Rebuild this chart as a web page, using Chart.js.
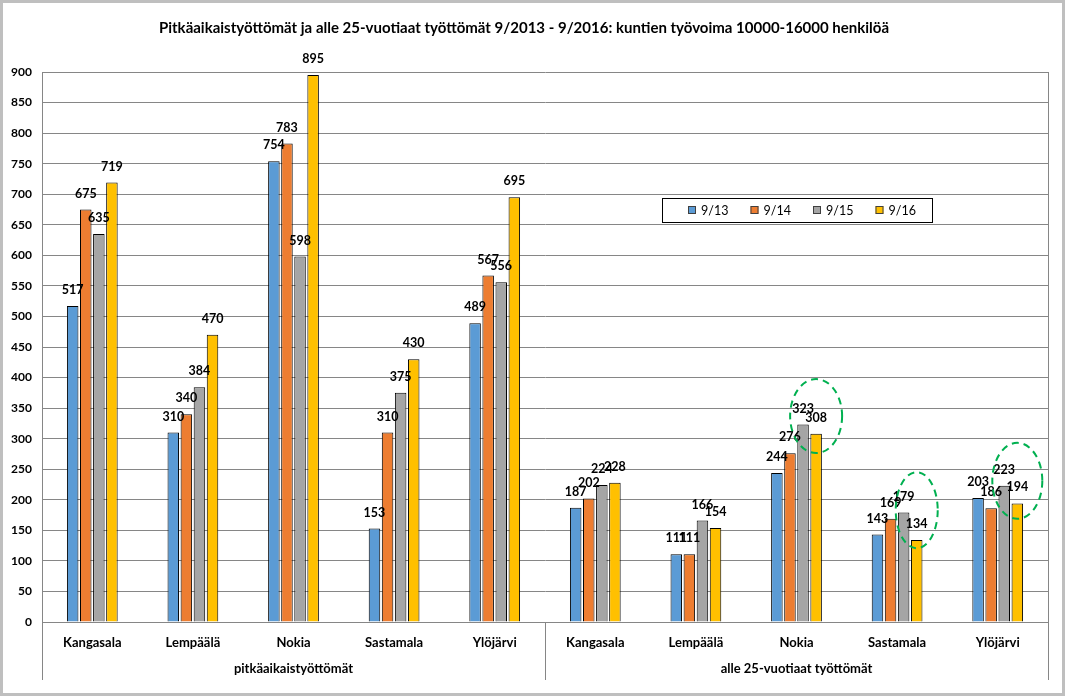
<!DOCTYPE html>
<html>
<head>
<meta charset="utf-8">
<script src="https://cdn.jsdelivr.net/npm/chart.js@4.4.0/dist/chart.umd.min.js"></script>
<style>
  html, body { margin: 0; padding: 0; background: #fff; }
  canvas { display: block; }
</style>
</head>
<body>
<canvas id="chart" width="1065" height="696"></canvas>
<script>
const cities = ['Kangasala', 'Lempäälä', 'Nokia', 'Sastamala', 'Ylöjärvi'];
const groups = ['pitkäaikaistyöttömät', 'alle 25-vuotiaat työttömät'];
const periods = ['9/13', '9/14', '9/15', '9/16'];

// first five values: pitkäaikaistyöttömät, last five: alle 25-vuotiaat
const v913 = [517, 310, 754, 153, 489, 187, 111, 244, 143, 203];
const v914 = [675, 340, 783, 310, 567, 202, 111, 276, 169, 186];
const v915 = [635, 384, 598, 375, 556, 224, 166, 323, 179, 223];
const v916 = [719, 470, 895, 430, 695, 228, 154, 308, 134, 194];

const yMin = 0;
const yMax = 900;
const yStep = 50;

// green dashed rings drawn over the chart: category index and value at ring centre
const rings = [
    { cat: 7, value: 337, rx: 26, ry: 37 },
    { cat: 8, value: 183, rx: 21, ry: 38 },
    { cat: 9, value: 231, rx: 25, ry: 38 }
];

const colors = ['#5B9BD5', '#ED7D31', '#A5A5A5', '#FFC000'];
const gridColor = '#868686';
const FONT = 'Lato, "Open Sans", sans-serif';

const labels = groups.flatMap(() => cities);
const series = [v913, v914, v915, v916];

const frame = {
    id: 'frame',
    beforeDraw(chart) {
        const { ctx, width, height } = chart;
        ctx.save();
        ctx.fillStyle = '#fff';
        ctx.fillRect(0, 0, width, height);
        ctx.restore();
    },
    afterDraw(chart) {
        const { ctx, width, height, chartArea } = chart;
        const x = chart.scales.x;
        ctx.save();
        // axis lines reaching down through the category labels
        ctx.strokeStyle = gridColor;
        ctx.lineWidth = 1;
        const bottom = chartArea.bottom + 58;
        const sep = (x.getPixelForValue(4) + x.getPixelForValue(5)) / 2;
        ctx.beginPath();
        ctx.moveTo(Math.round(chartArea.left) + 0.5, chartArea.top);
        ctx.lineTo(Math.round(chartArea.left) + 0.5, bottom);
        ctx.moveTo(Math.round(chartArea.right) + 0.5, chartArea.top);
        ctx.lineTo(Math.round(chartArea.right) + 0.5, bottom);
        ctx.moveTo(Math.round(sep) + 0.5, chartArea.bottom);
        ctx.lineTo(Math.round(sep) + 0.5, bottom);
        ctx.stroke();

        // group labels
        ctx.fillStyle = '#000';
        ctx.font = 'bold 13px ' + FONT;
        ctx.textAlign = 'center';
        ctx.textBaseline = 'middle';
        groups.forEach((g, i) => {
            const a = x.getPixelForValue(i * 5);
            const b = x.getPixelForValue(i * 5 + 4);
            ctx.fillText(g, (a + b) / 2, chartArea.bottom + 47);
        });

        // outer border
        ctx.strokeStyle = '#BFBFBF';
        ctx.lineWidth = 3;
        ctx.strokeRect(1.5, 1.5, width - 3, height - 3);
        ctx.restore();
    }
};

const valueLabels = {
    id: 'valueLabels',
    afterDatasetsDraw(chart) {
        const { ctx } = chart;
        ctx.save();
        ctx.fillStyle = '#000';
        ctx.font = 'bold 12.5px ' + FONT;
        ctx.textAlign = 'center';
        ctx.textBaseline = 'middle';
        chart.data.datasets.forEach((ds, di) => {
            chart.getDatasetMeta(di).data.forEach((bar, i) => {
                ctx.fillText(ds.data[i], bar.x, bar.y - 16);
            });
        });
        ctx.restore();
    }
};

const boxLegend = {
    id: 'boxLegend',
    afterDraw(chart) {
        const { ctx, chartArea } = chart;
        const left = chartArea.left + 620;
        const top = chartArea.top + 126;
        ctx.save();
        ctx.fillStyle = '#fff';
        ctx.fillRect(left, top, 270, 24);
        ctx.strokeStyle = '#000';
        ctx.lineWidth = 1;
        ctx.strokeRect(left + 0.5, top + 0.5, 270, 24);
        ctx.font = '12.5px ' + FONT;
        ctx.textBaseline = 'middle';
        chart.data.datasets.forEach((ds, i) => {
            const sx = left + 26 + i * 62.5;
            ctx.fillStyle = ds.backgroundColor;
            ctx.fillRect(sx, top + 8, 8, 8);
            ctx.strokeStyle = '#404040';
            ctx.strokeRect(sx + 0.5, top + 8.5, 7, 7);
            ctx.fillStyle = '#000';
            ctx.fillText(ds.label, sx + 13, top + 13);
        });
        ctx.restore();
    }
};

const ringPlugin = {
    id: 'rings',
    afterDraw(chart) {
        const { ctx } = chart;
        const y = chart.scales.y;
        const last = chart.getDatasetMeta(chart.data.datasets.length - 1);
        ctx.save();
        ctx.strokeStyle = '#00B050';
        ctx.lineWidth = 2;
        ctx.setLineDash([7, 5]);
        rings.forEach(r => {
            const cx = last.data[r.cat].x;
            const cy = y.getPixelForValue(r.value);
            ctx.beginPath();
            ctx.ellipse(cx, cy, r.rx, r.ry, 0, 0, Math.PI * 2);
            ctx.stroke();
        });
        ctx.restore();
    }
};

new Chart(document.getElementById('chart'), {
    type: 'bar',
    data: {
        labels: labels,
        datasets: series.map((data, i) => ({
            label: periods[i],
            data: data,
            backgroundColor: colors[i],
            borderColor: '#000',
            borderWidth: 1,
            borderSkipped: 'bottom',
            categoryPercentage: 0.52,
            barPercentage: 0.88
        }))
    },
    options: {
        responsive: false,
        animation: false,
        layout: { padding: { top: 0, right: 17, bottom: 0, left: 0 } },
        plugins: {
            legend: { display: false },
            tooltip: { enabled: false },
            title: {
                display: true,
                text: 'Pitkäaikaistyöttömät ja alle 25-vuotiaat työttömät 9/2013 - 9/2016: kuntien työvoima 10000-16000 henkilöä',
                color: '#000',
                font: { family: FONT, size: 15, weight: 'bold' },
                padding: { top: 19, bottom: 35 }
            }
        },
        scales: {
            x: {
                grid: { display: false },
                border: { display: true, color: gridColor },
                ticks: {
                    color: '#000',
                    font: { family: FONT, size: 13, weight: 'bold' },
                    padding: 5,
                    maxRotation: 0,
                    autoSkip: false
                },
                afterFit: (scale) => { scale.height = 74; }
            },
            y: {
                min: yMin,
                max: yMax,
                grid: { color: gridColor, lineWidth: 1, drawTicks: false },
                border: { display: true, color: gridColor },
                ticks: {
                    stepSize: yStep,
                    color: '#000',
                    font: { family: FONT, size: 12, weight: 'bold' },
                    padding: 10
                },
                afterFit: (scale) => { scale.width = 42; }
            }
        }
    },
    plugins: [frame, valueLabels, boxLegend, ringPlugin]
});
</script>
</body>
</html>
